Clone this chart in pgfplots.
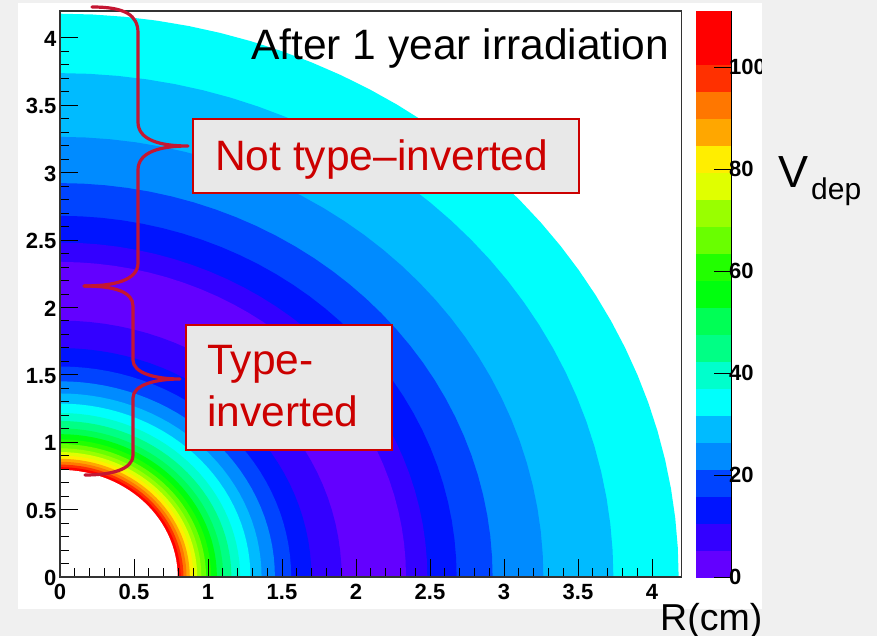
\documentclass[border=0pt]{standalone}
\usepackage{pgfplots}
\pgfplotsset{compat=1.18}
\usepgfplotslibrary{polar}
\usepackage{fontspec}
\setmainfont{Liberation Sans}
\definecolor{bg}{RGB}{240,240,240}
\definecolor{k0}{RGB}{99,0,255}
\definecolor{k1}{RGB}{51,0,255}
\definecolor{k2}{RGB}{0,20,255}
\definecolor{k3}{RGB}{0,68,255}
\definecolor{k4}{RGB}{0,139,255}
\definecolor{k5}{RGB}{0,187,255}
\definecolor{k6}{RGB}{0,255,252}
\definecolor{k7}{RGB}{0,255,204}
\definecolor{k8}{RGB}{0,255,133}
\definecolor{k9}{RGB}{0,255,85}
\definecolor{k10}{RGB}{0,255,14}
\definecolor{k11}{RGB}{34,255,0}
\definecolor{k12}{RGB}{105,255,0}
\definecolor{k13}{RGB}{153,255,0}
\definecolor{k14}{RGB}{224,255,0}
\definecolor{k15}{RGB}{255,238,0}
\definecolor{k16}{RGB}{255,167,0}
\definecolor{k17}{RGB}{255,119,0}
\definecolor{k18}{RGB}{255,48,0}
\definecolor{k19}{RGB}{255,0,0}
\definecolor{txtred}{RGB}{204,0,0}
\definecolor{boxfill}{RGB}{232,232,232}
\definecolor{bracered}{RGB}{196,22,50}
% one ring of the radial V_dep map: outer radius (cm), colour of its level
\newcommand{\ring}[2]{\addplot[draw=none, fill=#2, data cs=polar, forget plot] coordinates {(0,0) (0,#1) (3,#1) (6,#1) (9,#1) (12,#1) (15,#1) (18,#1) (21,#1) (24,#1) (27,#1) (30,#1) (33,#1) (36,#1) (39,#1) (42,#1) (45,#1) (48,#1) (51,#1) (54,#1) (57,#1) (60,#1) (63,#1) (66,#1) (69,#1) (72,#1) (75,#1) (78,#1) (81,#1) (84,#1) (87,#1) (90,#1)};}
\begin{document}
\begin{tikzpicture}
\begin{scope}[x=1pt,y=-1pt]
\fill[bg] (0,0) rectangle (877,636);
\fill[white] (18,3) rectangle (762,609);
\end{scope}
\begin{axis}[
  at={(60pt,-577pt)}, anchor=south west,
  scale only axis, width=621.6pt, height=566pt,
  xmin=0, xmax=4.2, ymin=0, ymax=4.2,
  xtick={0,0.5,1,1.5,2,2.5,3,3.5,4},
  ytick={0,0.5,1,1.5,2,2.5,3,3.5,4},
  minor x tick num=4, minor y tick num=4,
  tick align=inside, tick pos=left,
  major tick length=18pt, minor tick length=9pt,
  tick style={black, line width=1pt},
  axis line style={black!80, line width=1.2pt},
  axis on top,
  tick label style={font=\bfseries\fontsize{22}{22}\selectfont},
  xticklabel style={yshift=-4pt},
  yticklabel style={yshift=-1pt},
  /pgf/number format/assume math mode=true,
  colormap={rootpal}{rgb255=(99,0,255) rgb255=(51,0,255) rgb255=(0,20,255) rgb255=(0,68,255) rgb255=(0,139,255) rgb255=(0,187,255) rgb255=(0,255,252) rgb255=(0,255,204) rgb255=(0,255,133) rgb255=(0,255,85) rgb255=(0,255,14) rgb255=(34,255,0) rgb255=(105,255,0) rgb255=(153,255,0) rgb255=(224,255,0) rgb255=(255,238,0) rgb255=(255,167,0) rgb255=(255,119,0) rgb255=(255,48,0) rgb255=(255,0,0) rgb255=(255,0,0)},
  colormap access=piecewise constant,
  point meta min=0, point meta max=111,
  colorbar,
  colorbar style={
    at={(parent axis.north east)}, anchor=north west, xshift=5.4pt,
    scale only axis, width=36pt,
    ytick={0,20,40,60,80,100},
    tick align=inside, ytick pos=right, yticklabel pos=right,
    major tick length=18pt,
    tick style={black, line width=1pt},
    axis line style={draw=none},
    axis on top,
    tick label style={font=\bfseries\fontsize{22}{22}\selectfont},
    yticklabel style={xshift=-6pt},
    /pgf/number format/assume math mode=true,
    after end axis/.code={\draw[black, line width=1pt] (rel axis cs:1,0) -- (rel axis cs:1,1);},
  },
]
\ring{4.18}{k6}
\ring{3.739}{k5}
\ring{3.266}{k4}
\ring{2.923}{k3}
\ring{2.680}{k2}
\ring{2.482}{k1}
\ring{2.338}{k0}
\ring{1.903}{k1}
\ring{1.699}{k2}
\ring{1.562}{k3}
\ring{1.452}{k4}
\ring{1.362}{k5}
\ring{1.287}{k6}
\ring{1.217}{k7}
\ring{1.158}{k8}
\ring{1.103}{k9}
\ring{1.060}{k10}
\ring{1.021}{k11}
\ring{0.987}{k12}
\ring{0.955}{k13}
\ring{0.927}{k14}
\ring{0.901}{k15}
\ring{0.877}{k16}
\ring{0.855}{k17}
\ring{0.834}{k18}
\ring{0.815}{k19}
\ring{0.795}{white}
\end{axis}
\begin{scope}[x=1pt,y=-1pt]
\fill[bg] (762,0) rectangle (877,636);
% title
\node[anchor=base west, inner sep=0] at (251,59.3) {\fontsize{42.5}{42.5}\selectfont After 1 year irradiation};
% boxes
\draw[txtred, fill=boxfill, line width=2pt] (193.3,119) rectangle (579,193.3);
\node[anchor=base west, inner sep=0, text=txtred] at (215,170.7) {\fontsize{42.5}{42.5}\selectfont Not type\textendash inverted};
\draw[txtred, fill=boxfill, line width=2pt] (185.7,325) rectangle (392,450);
\node[anchor=base west, inner sep=0, text=txtred] at (207,374) {\fontsize{42.5}{42.5}\selectfont Type-};
\node[anchor=base west, inner sep=0, text=txtred] at (207,426) {\fontsize{42.5}{42.5}\selectfont inverted};
% braces
\draw[bracered, line width=3.2pt, line cap=round, line join=round]
  (92,7) .. controls (125,7) and (138,15) .. (138,33) -- (138,122)
  .. controls (138,140) and (160,146) .. (188,146)
  .. controls (160,146) and (138,152) .. (138,170) -- (138,263)
  .. controls (138,280) and (115,286) .. (84,286);
\draw[bracered, line width=3.2pt, line cap=round, line join=round]
  (84,286) .. controls (115,286) and (133,292) .. (133,306) -- (133,360)
  .. controls (133,373) and (155,379) .. (180,379)
  .. controls (155,379) and (133,385) .. (133,398) -- (133,455)
  .. controls (133,470) and (110,475) .. (85,475);
% axis titles
\node[anchor=base west, inner sep=0] at (778,188) {\fontsize{45}{45}\selectfont V};
\node[anchor=base west, inner sep=0] at (811,200) {\fontsize{30}{30}\selectfont dep};
\node[anchor=base west, inner sep=0] at (660,630) {\fontsize{37.5}{37.5}\selectfont R(cm)};
\end{scope}
\pgfresetboundingbox
\path[use as bounding box] (0pt,0pt) rectangle (877pt,-636pt);
\end{tikzpicture}
\end{document}
